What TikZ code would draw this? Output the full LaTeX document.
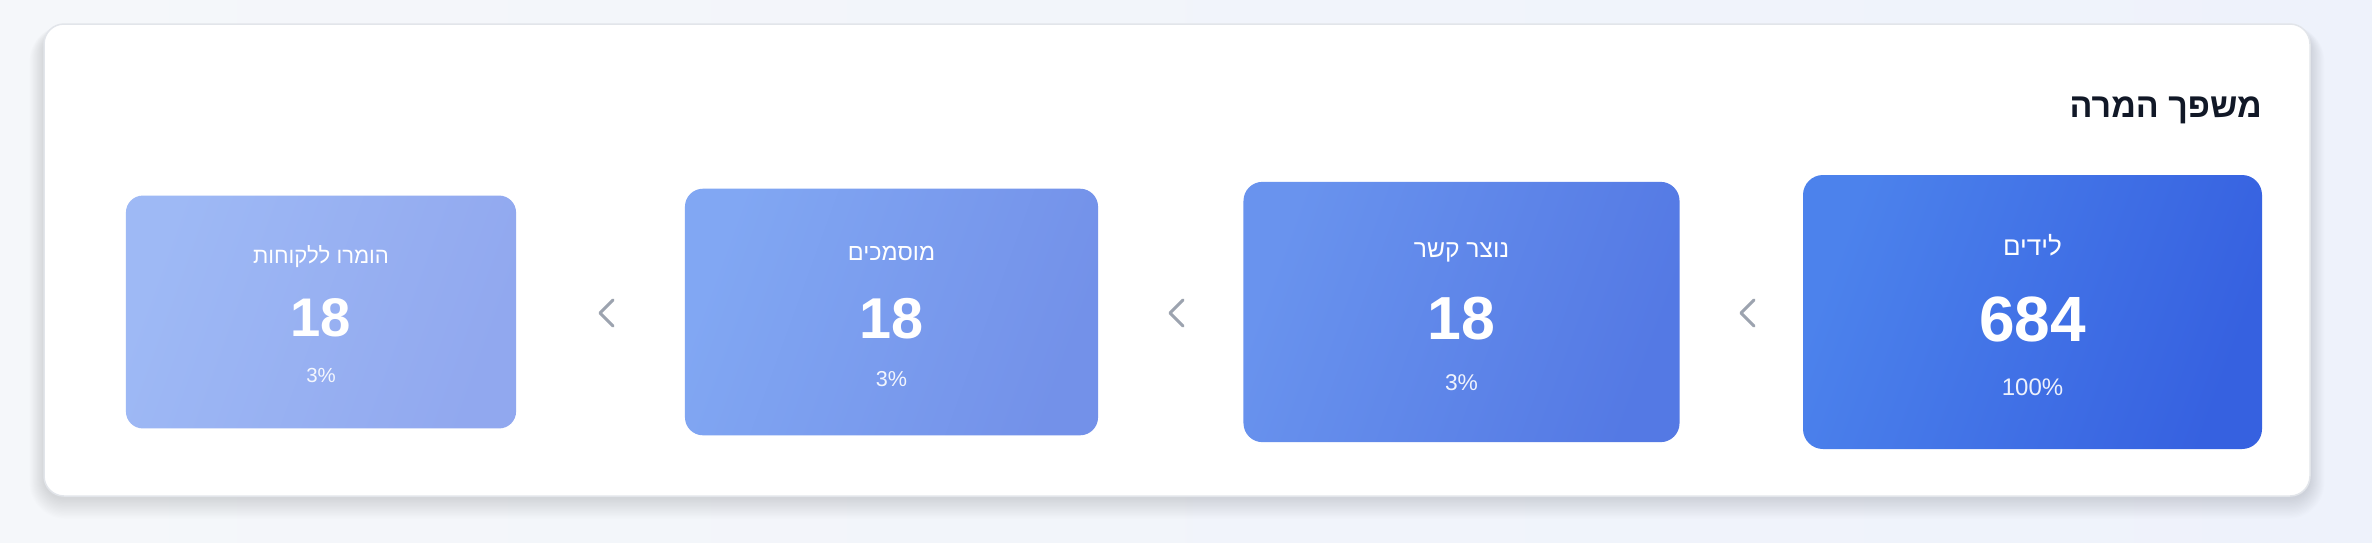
\documentclass[tikz,border=0pt]{standalone}
\usepackage{fontspec}
\setmainfont{Liberation Sans}
\newfontfamily\hebfont[Script=Hebrew]{Liberation Sans}
\TeXXeTstate=1
\definecolor{bgL}{HTML}{F5F7FA}
\definecolor{bgR}{HTML}{EEF2FB}
\definecolor{panelborder}{HTML}{E2E5EA}
\definecolor{headcol}{HTML}{111827}
\definecolor{chevcol}{HTML}{9CA3AF}
\definecolor{cAL}{HTML}{4C82EC}\definecolor{cAR}{HTML}{3661E0}
\definecolor{cBL}{HTML}{6993EE}\definecolor{cBR}{HTML}{5479E4}
\definecolor{cCL}{HTML}{81A7F3}\definecolor{cCR}{HTML}{7391E9}
\definecolor{cDL}{HTML}{9EB9F5}\definecolor{cDR}{HTML}{91A8EF}
\tikzset{
  panelbox/.style={draw=panelborder, line width=1.5pt, fill=white, rounded corners=20pt},
  cardbox/.style={rectangle, inner sep=0pt, draw=none},
  txt/.style={inner sep=0pt, text=white},
  chev/.style={draw=chevcol, line width=3pt, line cap=round, line join=round},
}
\newcommand{\funnelcard}[8]{%
  \pgfmathsetmacro\fsT{26*#3}%
  \pgfmathsetmacro\fsN{64*#3}%
  \pgfmathsetmacro\fsP{24*#3}%
  \pgfmathsetmacro\rc{20*#3}%
  \node[cardbox, left color=#4, right color=#5, shading angle=70,
        rounded corners=\rc pt, minimum width=459*#3, minimum height=274*#3] (#1) at (#2,312) {};
  \node[txt, anchor=base, font=\hebfont\fontsize{\fsT}{\fsT}\selectfont] (#1t) at (#2,312-57*#3) {#6};
  \node[txt, anchor=base, font=\bfseries\fontsize{\fsN}{\fsN}\selectfont] (#1n) at (#2,312+29*#3) {#7};
  \node[txt, anchor=base, text opacity=0.9, font=\fontsize{\fsP}{\fsP}\selectfont] (#1p) at (#2,312+83*#3) {#8};
}
\begin{document}
\begin{tikzpicture}[x=1pt,y=-1pt]
\useasboundingbox (0,0) rectangle (2372,542);
\shade[left color=bgL, right color=bgR] (0,0) rectangle (2372,542);
% shadow of panel
\foreach \k in {1,...,16}{
  \fill[black, opacity=0.008, rounded corners=20pt+\k pt] (44-\k*0.9, 30-\k*0.3) rectangle (2310+\k*0.9, 498+\k*1.3);
}
\draw[panelbox] (44,24) rectangle (2310,496);
% header
\node[inner sep=0pt, anchor=base east, text=headcol, font=\hebfont\bfseries\fontsize{34}{38}\selectfont] (head) at (2262,117) {\beginR משפך המרה\endR};
% cards
\funnelcard{c1}{2032.5}{1}{cAL}{cAR}{\beginR לידים\endR}{684}{100\%}
\funnelcard{c2}{1461.5}{0.95}{cBL}{cBR}{\beginR נוצר קשר\endR}{18}{3\%}
\funnelcard{c3}{891.5}{0.9}{cCL}{cCR}{\beginR מוסמכים\endR}{18}{3\%}
\funnelcard{c4}{321}{0.85}{cDL}{cDR}{\beginR הומרו ללקוחות\endR}{18}{3\%}
% chevrons
\coordinate (ap1) at (1741,313);
\coordinate (ap2) at (1170,313);
\coordinate (ap3) at (600,313);
\foreach \a in {ap1,ap2,ap3}{
  \draw[chev] ([shift={(13,-13)}]\a) -- (\a) -- ([shift={(13,13)}]\a);
}
\end{tikzpicture}
\end{document}
